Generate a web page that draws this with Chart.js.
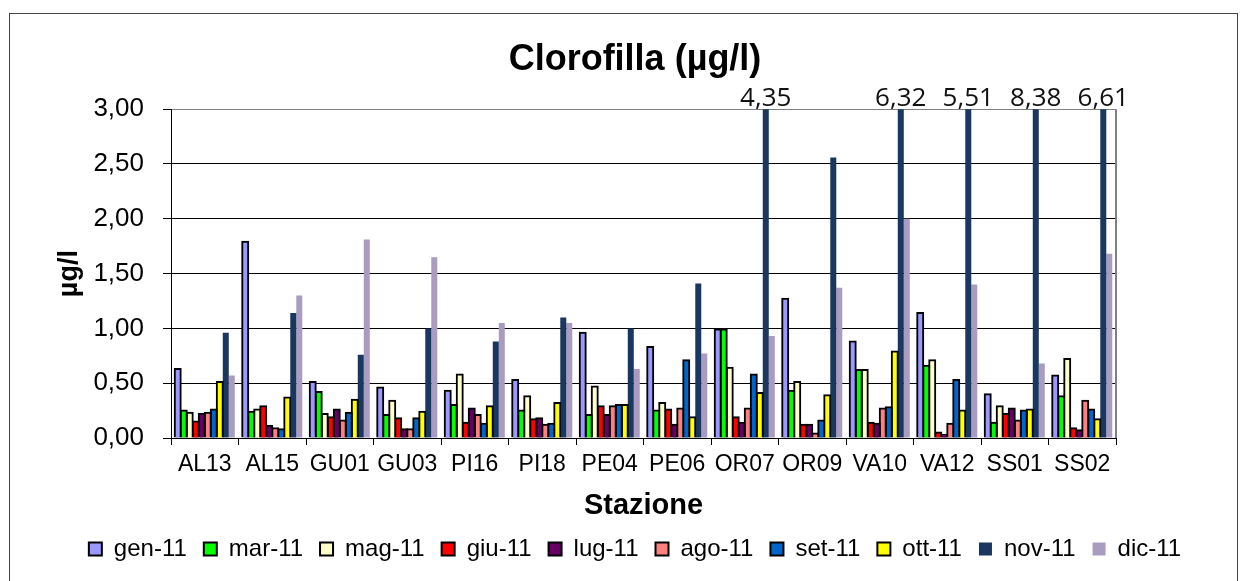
<!DOCTYPE html>
<html lang="it">
<head>
<meta charset="UTF-8">
<title>Clorofilla</title>
<script src="https://cdn.jsdelivr.net/npm/chart.js"></script>
<style>
  html, body { margin: 0; padding: 0; background: #fff; }
  #box { position: relative; width: 1244px; height: 581px; }
</style>
</head>
<body>
<div id="box"><canvas id="chart_C"></canvas></div>
<script>
    var stazioni = ['AL13', 'AL15', 'GU01', 'GU03', 'PI16', 'PI18', 'PE04', 'PE06',
        'OR07', 'OR09', 'VA10', 'VA12', 'SS01', 'SS02'];

    var gen11 = [0.63, 1.79, 0.51, 0.46, 0.43, 0.53, 0.96, 0.83, 0.99, 1.27, 0.88, 1.14, 0.40, 0.57];
    var mar11 = [0.25, 0.24, 0.42, 0.21, 0.30, 0.25, 0.21, 0.25, 0.99, 0.43, 0.62, 0.66, 0.14, 0.38];
    var mag11 = [0.23, 0.26, 0.22, 0.34, 0.58, 0.38, 0.47, 0.32, 0.64, 0.51, 0.62, 0.71, 0.29, 0.72];
    var giu11 = [0.15, 0.29, 0.19, 0.18, 0.14, 0.17, 0.29, 0.26, 0.19, 0.12, 0.14, 0.05, 0.22, 0.09];
    var lug11 = [0.22, 0.11, 0.26, 0.08, 0.27, 0.18, 0.21, 0.12, 0.14, 0.12, 0.13, 0.03, 0.27, 0.07];
    var ago11 = [0.23, 0.09, 0.16, 0.08, 0.21, 0.12, 0.29, 0.27, 0.27, 0.04, 0.27, 0.13, 0.16, 0.34];
    var set11 = [0.26, 0.08, 0.23, 0.18, 0.13, 0.13, 0.30, 0.71, 0.58, 0.16, 0.28, 0.53, 0.25, 0.26];
    var ott11 = [0.51, 0.37, 0.35, 0.24, 0.29, 0.32, 0.30, 0.19, 0.41, 0.39, 0.79, 0.25, 0.26, 0.17];
    var nov11 = [0.96, 1.14, 0.76, 1.00, 0.88, 1.10, 1.00, 1.41, 4.35, 2.56, 6.32, 5.51, 8.38, 6.61];
    var dic11 = [0.57, 1.30, 1.81, 1.65, 1.05, 1.05, 0.63, 0.77, 0.93, 1.37, 2.00, 1.40, 0.68, 1.68];

    var serie = [
        { label: 'gen-11', data: gen11, color: '#9999FF', border: 2 },
        { label: 'mar-11', data: mar11, color: '#00FF00', border: 2 },
        { label: 'mag-11', data: mag11, color: '#FFFFCC', border: 2 },
        { label: 'giu-11', data: giu11, color: '#FF0000', border: 2 },
        { label: 'lug-11', data: lug11, color: '#660066', border: 2 },
        { label: 'ago-11', data: ago11, color: '#FF8080', border: 2 },
        { label: 'set-11', data: set11, color: '#0066CC', border: 2 },
        { label: 'ott-11', data: ott11, color: '#FFFF00', border: 2 },
        { label: 'nov-11', data: nov11, color: '#1A3760', border: 0 },
        { label: 'dic-11', data: dic11, color: '#AA9CC0', border: 0 },
    ];

    var fam = '"Liberation Sans", Arial, sans-serif';
    var virgola = v => v.toFixed(2).replace('.', ',');

    // white background + outer frame + grey right edge of the plot
    var cornice = {
        id: 'cornice',
        beforeDraw(chart) {
            var ctx = chart.ctx;
            ctx.save();
            ctx.fillStyle = '#fff';
            ctx.fillRect(0, 0, chart.width, chart.height);
            ctx.strokeStyle = '#444';
            ctx.lineWidth = 1;
            ctx.strokeRect(9.5, 13.5, 1228, 600);
            ctx.restore();
        },
        beforeDatasetsDraw(chart) {
            var a = chart.chartArea, ctx = chart.ctx;
            ctx.save();
            ctx.strokeStyle = '#808080';
            ctx.lineWidth = 2;
            ctx.beginPath();
            ctx.moveTo(a.right, a.top);
            ctx.lineTo(a.right, a.bottom);
            ctx.stroke();
            ctx.restore();
        }
    };

    // values of the clipped nov-11 bars written above the plot
    var fuoriScala = {
        id: 'fuoriScala',
        afterDatasetsDraw(chart) {
            var ctx = chart.ctx;
            var meta = chart.getDatasetMeta(8);
            var max = chart.scales.y.max;
            ctx.save();
            ctx.fillStyle = '#111';
            ctx.font = '26px "Open Sans", sans-serif';
            ctx.textAlign = 'center';
            ctx.textBaseline = 'alphabetic';
            nov11.forEach((v, i) => {
                if (v > max) ctx.fillText(virgola(v), meta.data[i].x, chart.chartArea.top - 3);
            });
            ctx.restore();
        }
    };

    new Chart(document.getElementById('chart_C'), {
        type: 'bar',
        data: {
            labels: stazioni,
            datasets: serie.map(s => ({
                label: s.label,
                data: s.data,
                backgroundColor: s.color,
                borderColor: '#000',
                borderWidth: s.border,
                // outlined bars spill 1px over their neighbours, as in the original
                inflateAmount: s.border ? 1 : 'auto',
                categoryPercentage: 0.89,
                barPercentage: 1.0,
            })),
        },
        options: {
            responsive: true,
            maintainAspectRatio: false,
            animation: false,
            layout: { padding: { left: 30, right: 4, top: 0, bottom: 10 } },
            plugins: {
                tooltip: { enabled: false },
                title: {
                    display: true,
                    text: 'Clorofilla (µg/l)',
                    color: '#000',
                    font: { family: fam, size: 36, weight: 'bold' },
                    padding: { top: 38, bottom: 28 },
                },
                legend: {
                    position: 'bottom',
                    labels: {
                        boxWidth: 13,
                        boxHeight: 13,
                        padding: 17,
                        color: '#000',
                        font: { family: fam, size: 24 },
                    },
                },
            },
            scales: {
                x: {
                    grid: { display: true, drawOnChartArea: false, color: '#000', tickLength: 7, offset: true },
                    border: { color: '#000' },
                    ticks: { color: '#000', font: { family: fam, size: 23 }, padding: 6, maxRotation: 0, autoSkip: false },
                    title: {
                        display: true,
                        text: 'Stazione',
                        color: '#000',
                        font: { family: fam, size: 29, weight: 'bold', lineHeight: 1 },
                        padding: { top: 0, bottom: 0 },
                    },
                    afterFit: s => { s.height = 82; },
                },
                y: {
                    min: 0,
                    max: 3,
                    ticks: { stepSize: 0.5, color: '#000', font: { family: fam, size: 26 }, padding: 19, callback: v => virgola(v) },
                    grid: {
                        color: c => (c.tick && c.tick.value === 3 ? '#808080' : '#000'),
                        tickColor: '#000',
                        tickLength: 8,
                    },
                    border: { color: '#000' },
                    title: {
                        display: true,
                        text: 'µg/l',
                        color: '#000',
                        font: { family: fam, size: 27, weight: 'bold' },
                        padding: { top: 23 },
                    },
                    afterFit: s => { s.width = 141; },
                },
                // empty right-hand axis, only to leave the blank strip right of the plot
                spazio: {
                    type: 'linear',
                    position: 'right',
                    display: true,
                    grid: { display: false },
                    border: { display: false },
                    ticks: { display: false },
                    afterFit: s => { s.width = 124; },
                },
            },
        },
        plugins: [cornice, fuoriScala],
    });
</script>
</body>
</html>
